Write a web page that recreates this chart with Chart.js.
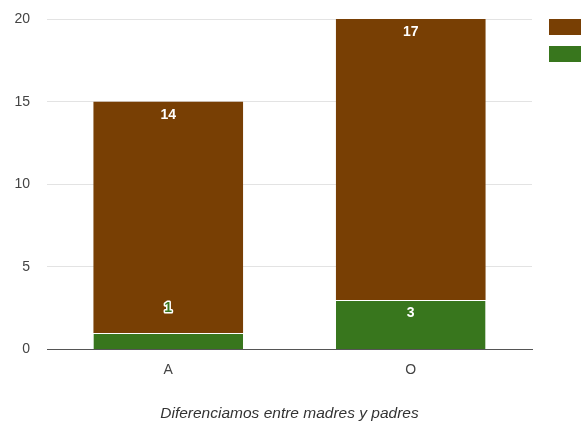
<!DOCTYPE html>
<html>
<head>
<meta charset="utf-8">
<script src="https://cdn.jsdelivr.net/npm/chart.js@4/dist/chart.umd.min.js"></script>
<style>
  html, body { margin: 0; padding: 0; background: #fff; overflow: hidden; }
  #wrap { width: 587px; height: 424px; position: relative; }
</style>
</head>
<body>
<div id="wrap"><canvas id="c" width="587" height="424"></canvas></div>
<script>
// Categories and stacked series
const categories = ['A', 'O'];
const seriesNames = ['Madres', 'Padres'];
const bottomValues = [1, 3];    // green segment
const topValues = [14, 17];     // brown segment
const yTicks = [0, 5, 10, 15, 20];
const axisTitle = 'Diferenciamos entre madres y padres';

const GREEN = '#38761d';
const BROWN = '#783f04';
const FONT = "'Liberation Sans', Arial, sans-serif";

// Value labels: placed near the top of each segment; if the segment is
// too short, the label sits above it in the series colour with a white halo.
const valueLabels = {
  id: 'valueLabels',
  afterDatasetsDraw(chart) {
    const ctx = chart.ctx;
    ctx.save();
    ctx.font = "bold 14px " + FONT;
    ctx.textAlign = 'center';
    ctx.textBaseline = 'middle';
    chart.data.datasets.forEach((ds, di) => {
      const meta = chart.getDatasetMeta(di);
      meta.data.forEach((bar, i) => {
        const v = ds.data[i];
        const top = Math.min(bar.y, bar.base);
        const h = Math.abs(bar.base - bar.y);
        const txt = String(v);
        if (h >= 24) {
          ctx.fillStyle = '#ffffff';
          ctx.fillText(txt, bar.x, top + 13);
        } else {
          const y = top - 25;
          ctx.lineWidth = 3;
          ctx.lineJoin = 'round';
          ctx.strokeStyle = '#ffffff';
          ctx.strokeText(txt, bar.x, y);
          ctx.fillStyle = ds.backgroundColor;
          ctx.fillText(txt, bar.x, y);
        }
      });
    });
    ctx.restore();
  }
};

new Chart(document.getElementById('c'), {
  type: 'bar',
  data: {
    labels: categories,
    datasets: [
      {
        label: seriesNames[1],
        data: bottomValues,
        backgroundColor: GREEN,
        borderColor: 'rgba(255,255,255,0.75)',
        borderWidth: { top: 1, left: 0, right: 0, bottom: 0 },
        borderSkipped: false,
        barPercentage: 0.617,
        categoryPercentage: 1.0
      },
      {
        label: seriesNames[0],
        data: topValues,
        backgroundColor: BROWN,
        borderWidth: 0,
        barPercentage: 0.617,
        categoryPercentage: 1.0
      }
    ]
  },
  options: {
    responsive: false,
    animation: false,
    devicePixelRatio: 1,
    layout: { padding: { left: 12, top: 8, right: -4.5, bottom: 1 } },
    plugins: {
      legend: {
        position: 'right',
        align: 'start',
        reverse: true,
        labels: {
          boxWidth: 32,
          boxHeight: 16,
          padding: 11,
          font: { size: 1 },
          color: 'rgba(0,0,0,0)',
          generateLabels(chart) {
            return chart.data.datasets.map((ds, i) => ({
              text: '',
              fillStyle: ds.backgroundColor,
              strokeStyle: ds.backgroundColor,
              lineWidth: 0,
              hidden: false,
              datasetIndex: i
            }));
          }
        }
      },
      tooltip: { enabled: false },
      title: { display: false }
    },
    scales: {
      x: {
        stacked: true,
        grid: { display: false, drawTicks: false },
        border: { color: '#555', width: 1 },
        ticks: { color: '#444', font: { family: FONT, size: 14 }, padding: 12.4 },
        title: {
          display: true,
          text: axisTitle,
          color: '#333',
          font: { family: FONT, size: 15.5, style: 'italic' },
          padding: { top: 13.2, bottom: 0 }
        }
      },
      y: {
        stacked: true,
        min: 0,
        max: 20,
        afterBuildTicks(scale) { scale.ticks = yTicks.map(v => ({ value: v })); },
        grid: { color: '#e3e3e3', drawTicks: false },
        border: { display: false },
        ticks: { color: '#444', font: { family: FONT, size: 14 }, padding: 17 },
        afterFit(scale) { scale.width = 35; scale.paddingTop = 19; }
      },
      // empty gutter between the plot and the legend
      gutter: {
        type: 'linear',
        position: 'right',
        display: true,
        grid: { display: false, drawTicks: false },
        border: { display: false },
        ticks: { display: false },
        afterFit(scale) { scale.width = 6; }
      }
    }
  },
  plugins: [valueLabels]
});
</script>
</body>
</html>
